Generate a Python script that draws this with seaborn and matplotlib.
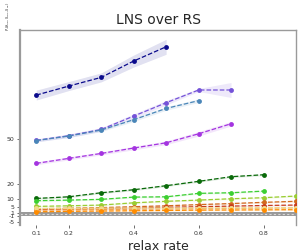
import numpy as np
import pandas as pd
import matplotlib
matplotlib.use("Agg")
import matplotlib.pyplot as plt
import seaborn as sns

sns.set_style("white")
plt.rcParams['font.family'] = ['DejaVu Sans']

relax = [0.1, 0.2, 0.3, 0.4, 0.5, 0.6, 0.7, 0.8, 0.9]

series_names = ["navy", "slate", "steel", "violet", "dgreen", "lime", "ygreen",
                "choco", "red", "sandy", "khaki", "dorange"]
series_colors = ["#0a0a8c", "#7452d8", "#4a86b8", "#a434e0", "#0a6a0a", "#3ccf32",
                 "#9acd32", "#d2691e", "#c83c1e", "#f0a050", "#f0dc8c", "#ff8c00"]
series_values = [
    [79.3, 85.3, 91.1, 102.0, 111.5],
    [49.1, 52.2, 56.4, 65.3, 74.2, 82.7, 82.7],
    [49.0, 52.0, 56.0, 62.9, 70.4, 75.6],
    [33.8, 37.1, 40.4, 44.0, 47.5, 53.5, 60.2],
    [10.4, 11.5, 14.2, 16.2, 18.9, 21.8, 24.9, 26.2],
    [8.9, 9.3, 9.8, 11.3, 11.5, 13.8, 14.2, 15.3],
    [5.1, 5.5, 6.0, 7.5, 8.5, 9.3, 10.2, 10.9, 12.0],
    [3.5, 3.9, 4.3, 4.9, 5.5, 6.3, 7.0, 7.8, 8.5],
    [3.0, 3.3, 3.6, 4.0, 4.5, 4.9, 5.3, 5.7, 6.0],
    [2.6, 2.8, 3.0, 3.2, 3.4, 3.6, 3.8, 4.0, 4.2],
    [3.8, 3.8, 3.9, 4.0, 4.0, 4.1, 4.1, 4.2, 4.2],
    [1.5, 1.8, 2.0, 2.2, 2.4, 2.6, 2.7, 2.8, 2.9],
]
series_err = [
    [3.3, 3.0, 3.0, 4.0, 5.0],
    [1.0, 1.2, 1.2, 1.5, 1.5, 1.0, 5.0],
    [0.8, 1.0, 1.0, 1.2, 1.2, 1.2],
    [1.0, 1.0, 1.0, 1.2, 1.2, 1.5, 1.5],
    [0.6, 0.6, 0.6, 0.6, 0.6, 0.6, 0.6, 0.6],
    [0.5, 0.5, 0.5, 0.5, 0.5, 0.5, 0.5, 0.5],
    [0.5, 0.5, 0.5, 0.5, 0.5, 0.5, 0.5, 0.5, 0.5],
    [0.5, 0.5, 0.5, 0.5, 0.5, 0.5, 0.5, 0.5, 0.5],
    [0.5, 0.5, 0.5, 0.5, 0.5, 0.5, 0.5, 0.5, 0.5],
    [0.5, 0.5, 0.5, 0.5, 0.5, 0.5, 0.5, 0.5, 0.5],
    [0.5, 0.5, 0.5, 0.5, 0.5, 0.5, 0.5, 0.5, 0.5],
    [0.5, 0.5, 0.5, 0.5, 0.5, 0.5, 0.5, 0.5, 0.5],
]

xticks = [0.1, 0.2, 0.4, 0.6, 0.8]
yticks = [-5, -1, 1, 5, 10, 20, 50]

fig = plt.figure(figsize=(2.99, 2.52), dpi=100)
ax = fig.add_axes([20/299, 1-225/252, 276/299, 195/252])

ax.axhspan(-1.1, 1.1, color="#9a9a9a", lw=0, zorder=1)
ax.axhline(0, color="#d8d8d8", ls=(0, (2, 2)), lw=0.8, zorder=1.5)

for name, col, vals, err in zip(series_names, series_colors, series_values, series_err):
    xs = relax[:len(vals)]
    df = pd.DataFrame({"x": xs, "y": vals})
    v = np.array(vals); e = np.array(err)
    ax.fill_between(xs, v - e, v + e, color=col, alpha=0.12, lw=0, zorder=2)
    sns.lineplot(data=df, x="x", y="y", ax=ax, color=col, marker="o",
                 markersize=3.5, markeredgewidth=0, linestyle="--", lw=0.9, zorder=3)

ax.set_xlim(0.05, 0.9)
ax.set_ylim(-7.3, 122.7)
ax.set_xticks(xticks)
ax.set_xticklabels([str(t) for t in xticks])
ax.set_yticks(yticks)
ax.set_yticklabels([str(t) for t in yticks])
ax.tick_params(axis="both", labelsize=4.5, length=2, width=0.6, color="#555555",
               labelcolor="#333333", pad=2, bottom=True, left=True)

for s in ["left", "top", "right"]:
    ax.spines[s].set_color("#9a9a9a")
    ax.spines[s].set_linewidth(1.0)
ax.spines["left"].set_linewidth(1.6)
ax.spines["bottom"].set_visible(False)

ax.set_title("LNS over RS", fontsize=10, pad=4)
ax.set_xlabel("relax rate", fontsize=9, labelpad=3)
ylab = ax.set_ylabel(r"$P_\delta(\delta_{HD}, S_{LNS}, S_{RS})$", fontsize=4.0)
ax.yaxis.set_label_coords(-0.03, 1.072)

# size the y label so it fits above the axes like in the reference
fig.canvas.draw()
ext = ylab.get_window_extent()
target = 28.0
ylab.set_fontsize(4.0 * target / ext.height)

fig.savefig("out.png", dpi=100)
